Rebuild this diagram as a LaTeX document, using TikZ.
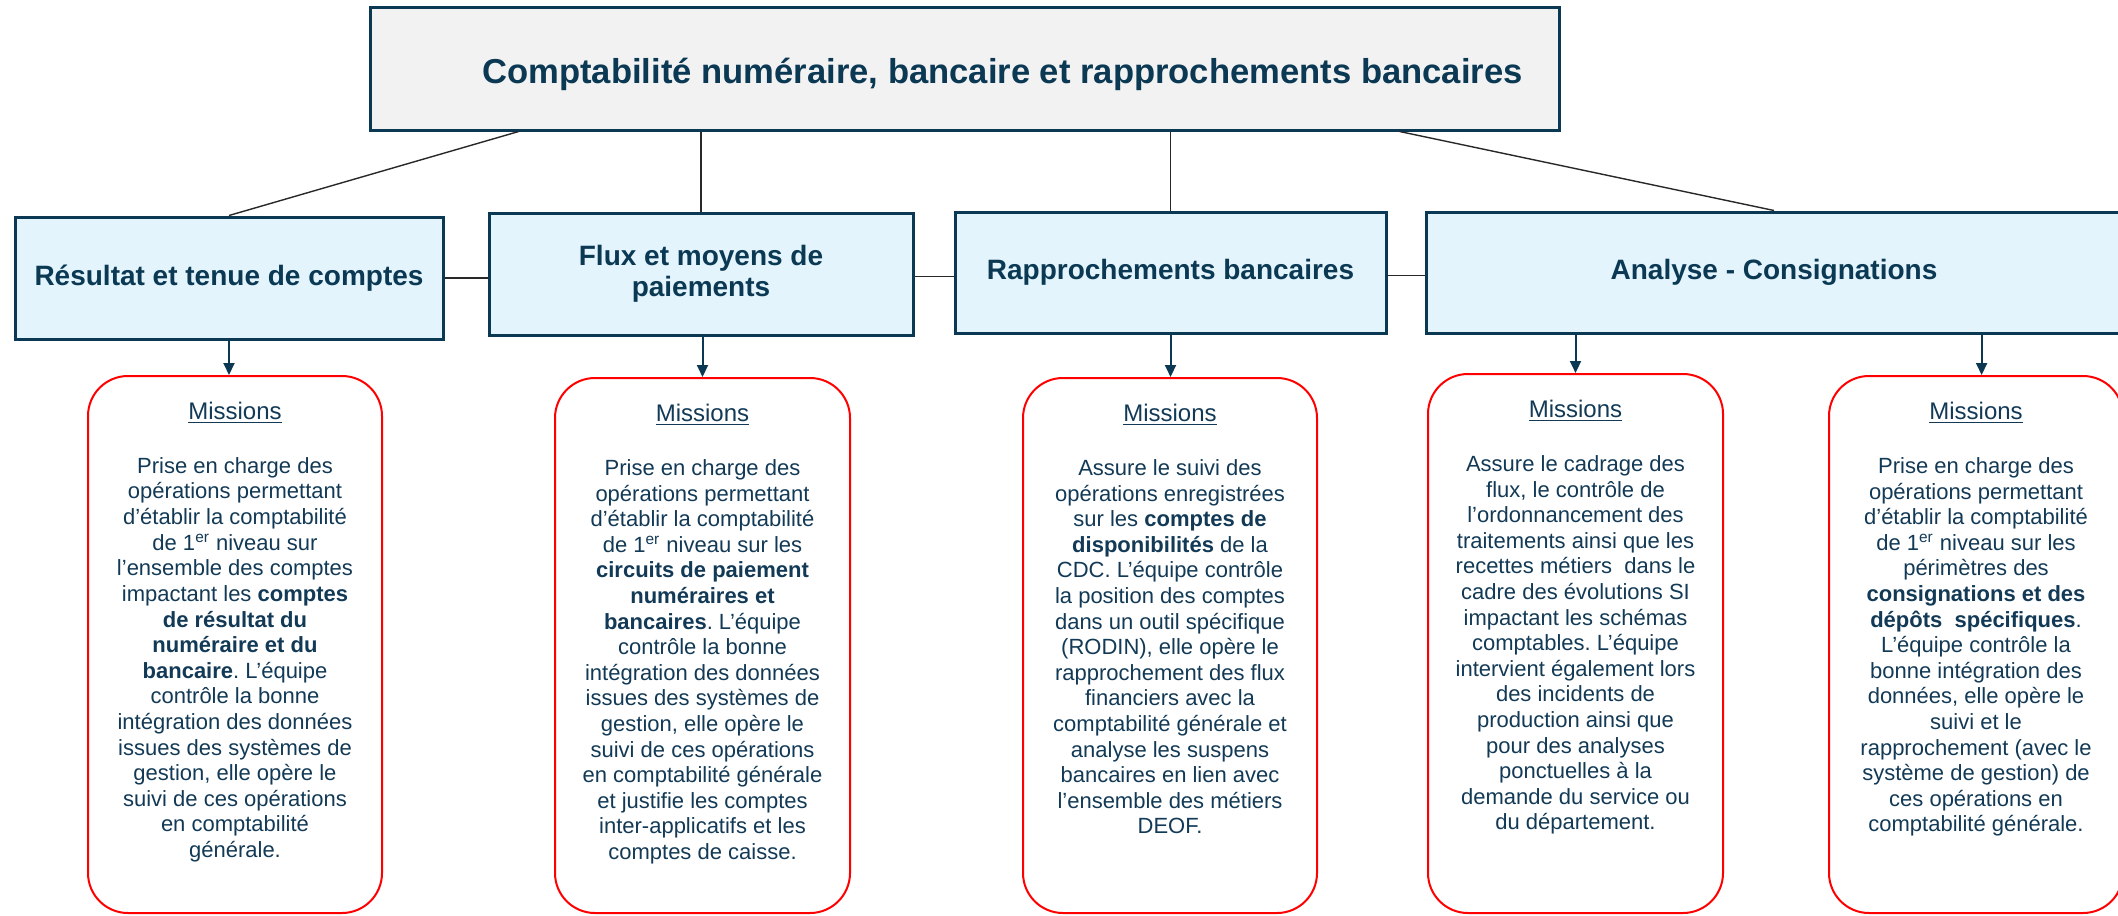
\documentclass[tikz,border=0pt]{standalone}
\usepackage{fontspec}
\setmainfont{Liberation Sans}
\usepackage{xcolor}
\usetikzlibrary{arrows.meta,calc,positioning}

\definecolor{r11g57b84}{RGB}{11,57,84}
\definecolor{r18g57b85}{RGB}{18,57,85}
\definecolor{r242g242b242}{RGB}{242,242,242}
\definecolor{r227g244b252}{RGB}{227,244,252}
\definecolor{r40g40b40}{RGB}{40,40,40}

\newcommand{\missionhead}{{\fontsize{12}{14}\selectfont\underline{Missions}}\\[14pt]}

\begin{document}
\frenchspacing
\begin{tikzpicture}[x=0.5pt,y=-0.5pt,
    titlebox/.style={draw=r11g57b84, line width=1.5pt, fill=r242g242b242, text=r11g57b84,
      font=\fontsize{14}{15.5}\selectfont\bfseries, inner sep=0pt, align=center},
    teambox/.style={titlebox, fill=r227g244b252},
    missionbox/.style={draw=red, line width=1pt, rounded corners=20pt, inner sep=0pt},
    missiontext/.style={text=r18g57b85, font=\fontsize{11}{12.8}\selectfont, align=center, inner sep=0pt},
    link/.style={draw=r40g40b40, line width=0.7pt},
    down/.style={draw=r11g57b84, line width=1pt, -{Triangle[length=6pt,width=5.5pt]}}]
\useasboundingbox (0,0) rectangle (2118,915);

% Drawing top box
\node[titlebox, minimum width=594.5pt, minimum height=61pt, text height=14.4pt, text depth=0pt,
  font=\fontsize{17.3}{20}\selectfont\bfseries] (top) at (964.5,69)
  {\hspace*{38pt}Comptabilité numéraire, bancaire et rapprochements bancaires};

% Drawing team boxes
\node[teambox, minimum width=214pt, minimum height=61pt] (res) at (229,278) {Résultat et tenue de comptes};
\node[teambox, minimum width=212pt, minimum height=61pt] (flux) at (701,274) {Flux et moyens de\\paiements};
\node[teambox, minimum width=215.5pt, minimum height=60.5pt] (rap) at (1170.5,272.5) {Rapprochements bancaires};
\node[teambox, minimum width=348pt, minimum height=60.5pt] (ana) at (1774,272.5) {Analyse - Consignations};

% Drawing lines from top box
\draw[link] ($(top.south west)!0.126!(top.south east)$) -- (res.north);
\draw[link] (flux.north |- top.south) -- (flux.north);
\draw[link] (rap.north |- top.south) -- (rap.north);
\draw[link] ($(top.south west)!0.865!(top.south east)$) -- (ana.north);

% Drawing lines between team boxes
\draw[link] (res.east) -- (res.east -| flux.west);
\draw[link] ($(flux.east)+(0,2.5)$) -- ($(flux.east -| rap.west)+(0,2.5)$);
\draw[link] ($(rap.east)+(0,3)$) -- ($(rap.east -| ana.west)+(0,3)$);

% Drawing mission boxes
\node[missionbox, minimum width=147pt, minimum height=268.5pt] (m1) at (235,644.5) {};
\node[missionbox, minimum width=147.5pt, minimum height=267.5pt] (m2) at (702.5,645.5) {};
\node[missionbox, minimum width=147pt, minimum height=267.5pt] (m3) at (1170,645.5) {};
\node[missionbox, minimum width=147.5pt, minimum height=269.5pt] (m4) at (1575.5,643.5) {};
\node[missionbox, minimum width=147pt, minimum height=268.5pt] (m5) at (1976,644.5) {};

% Drawing arrows
\coordinate (a5) at ($(ana.south west)!0.797!(ana.south east)$);
\draw[down] (res.south) -- (res.south |- m1.north);
\draw[down] (m2.north |- flux.south) -- (m2.north);
\draw[down] (rap.south) -- (rap.south |- m3.north);
\draw[down] (m4.north |- ana.south) -- (m4.north);
\draw[down] (a5) -- (a5 |- m5.north);

% Marking mission texts
\node[missiontext, below=13.5pt of m1.north] (t1) {\missionhead
  Prise en charge des\\
  opérations permettant\\
  d’établir la comptabilité\\
  de 1\textsuperscript{er} niveau sur\\
  l’ensemble des comptes\\
  impactant les \textbf{comptes}\\
  \textbf{de résultat du}\\
  \textbf{numéraire et du}\\
  \textbf{bancaire}. L’équipe\\
  contrôle la bonne\\
  intégration des données\\
  issues des systèmes de\\
  gestion, elle opère le\\
  suivi de ces opérations\\
  en comptabilité\\
  générale.};

\node[missiontext, below=13.5pt of m2.north] (t2) {\missionhead
  Prise en charge des\\
  opérations permettant\\
  d’établir la comptabilité\\
  de 1\textsuperscript{er} niveau sur les\\
  \textbf{circuits de paiement}\\
  \textbf{numéraires et}\\
  \textbf{bancaires}. L’équipe\\
  contrôle la bonne\\
  intégration des données\\
  issues des systèmes de\\
  gestion, elle opère le\\
  suivi de ces opérations\\
  en comptabilité générale\\
  et justifie les comptes\\
  inter-applicatifs et les\\
  comptes de caisse.};

\node[missiontext, below=13.5pt of m3.north] (t3) {\missionhead
  Assure le suivi des\\
  opérations enregistrées\\
  sur les \textbf{comptes de}\\
  \textbf{disponibilités} de la\\
  CDC. L’équipe contrôle\\
  la position des comptes\\
  dans un outil spécifique\\
  (RODIN), elle opère le\\
  rapprochement des flux\\
  financiers avec la\\
  comptabilité générale et\\
  analyse les suspens\\
  bancaires en lien avec\\
  l’ensemble des métiers\\
  DEOF.};

\node[missiontext, below=13.5pt of m4.north] (t4) {\missionhead
  Assure le cadrage des\\
  flux, le contrôle de\\
  l’ordonnancement des\\
  traitements ainsi que les\\
  recettes métiers\ \ dans le\\
  cadre des évolutions SI\\
  impactant les schémas\\
  comptables. L’équipe\\
  intervient également lors\\
  des incidents de\\
  production ainsi que\\
  pour des analyses\\
  ponctuelles à la\\
  demande du service ou\\
  du département.};

\node[missiontext, below=13.5pt of m5.north] (t5) {\missionhead
  Prise en charge des\\
  opérations permettant\\
  d’établir la comptabilité\\
  de 1\textsuperscript{er} niveau sur les\\
  périmètres des\\
  \textbf{consignations et des}\\
  \textbf{dépôts\ \ spécifiques}.\\
  L’équipe contrôle la\\
  bonne intégration des\\
  données, elle opère le\\
  suivi et le\\
  rapprochement (avec le\\
  système de gestion) de\\
  ces opérations en\\
  comptabilité générale.};
\end{tikzpicture}
\end{document}
